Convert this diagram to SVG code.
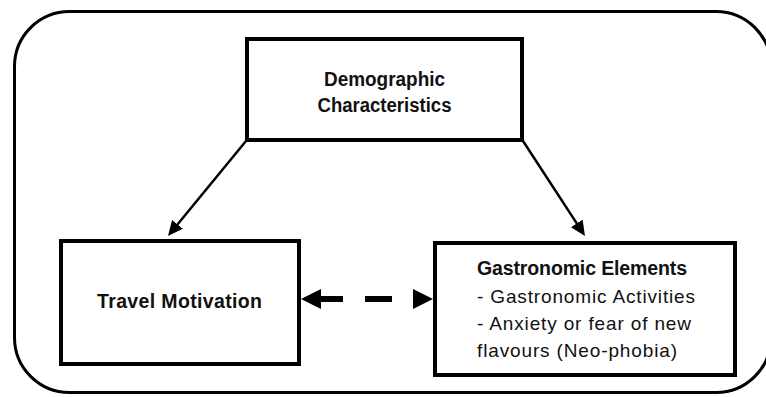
<svg xmlns="http://www.w3.org/2000/svg" width="766" height="397" viewBox="0 0 766 397">
  <style>
    .frame { fill: none; stroke: #000; stroke-width: 3; }
    .box { fill: #fff; stroke: #000; stroke-width: 4; }
    .b { font-family: "Liberation Sans", Arial, sans-serif; font-weight: bold; font-size: 19.5px; fill: #111; }
    .r { font-family: "Liberation Sans", Arial, sans-serif; font-size: 19px; fill: #111; }
    .link { stroke: #000; stroke-width: 2.5; fill: none; }
    .dash { stroke: #000; stroke-width: 6; fill: none; stroke-dasharray: 22 22 27 21; }
  </style>
  <defs>
    <marker id="arrow" markerUnits="userSpaceOnUse" markerWidth="15" markerHeight="14" refX="3" refY="7" orient="auto">
      <path d="M0,0 L15,7 L0,14 z" fill="#000"/>
    </marker>
    <marker id="arrowBig" markerUnits="userSpaceOnUse" markerWidth="20" markerHeight="20" refX="0" refY="10" orient="auto-start-reverse">
      <path d="M0,0 L20,10 L0,20 z" fill="#000"/>
    </marker>
  </defs>
  <rect width="766" height="397" fill="#fff"/>
  <rect class="frame" x="14.5" y="11.5" width="756.5" height="381" rx="55" ry="55"/>

  <g id="connectors">
    <line class="link" x1="246" y1="141" x2="175.6" y2="226.7" marker-end="url(#arrow)"/>
    <line class="link" x1="523" y1="141" x2="578.4" y2="225.9" marker-end="url(#arrow)"/>
    <line class="dash" x1="321" y1="299" x2="413" y2="299" marker-start="url(#arrowBig)" marker-end="url(#arrowBig)"/>
  </g>

  <g id="demographic">
    <rect class="box" x="247" y="39" width="275" height="101"/>
    <text class="b" x="384.5" y="86" text-anchor="middle" textLength="121" lengthAdjust="spacingAndGlyphs">Demographic</text>
    <text class="b" x="384.5" y="112" text-anchor="middle" textLength="134" lengthAdjust="spacingAndGlyphs">Characteristics</text>
  </g>

  <g id="travel">
    <rect class="box" x="61" y="241" width="238" height="123"/>
    <text class="b" x="179.5" y="308" text-anchor="middle" textLength="165">Travel Motivation</text>
  </g>

  <g id="gastronomic">
    <rect class="box" x="435" y="243" width="300" height="132"/>
    <text class="b" x="477" y="275" textLength="210">Gastronomic Elements</text>
    <text class="r" x="477" y="303" textLength="218">- Gastronomic Activities</text>
    <text class="r" x="477" y="330" textLength="214">- Anxiety or fear of new</text>
    <text class="r" x="477" y="357" textLength="200">flavours (Neo-phobia)</text>
  </g>
</svg>
